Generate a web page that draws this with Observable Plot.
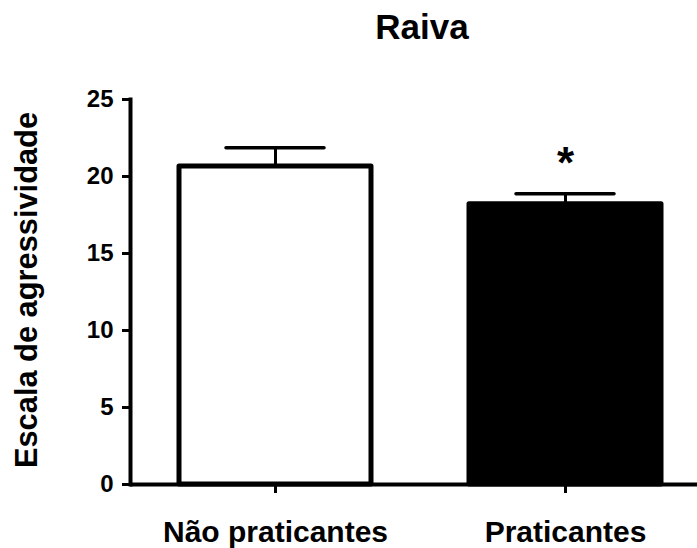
<!DOCTYPE html>
<html>
<head>
<meta charset="utf-8">
<script src="https://cdn.jsdelivr.net/npm/d3@7"></script>
<script src="https://cdn.jsdelivr.net/npm/@observablehq/plot@0.6"></script>
<style>
  html, body { margin: 0; padding: 0; background: white; }
</style>
</head>
<body>
<div id="chart"></div>
<script>
const grupos = ["Não praticantes", "Praticantes"];
const medias = [20.65, 18.2];
const epm = [1.22, 0.68];
const significancia = ["", "*"];
const yTicks = [0, 5, 10, 15, 20, 25];
const titulo = "Raiva";
const rotuloY = "Escala de agressividade";

const data = grupos.map((g, i) => ({grupo: g, media: medias[i], epm: epm[i], sig: significancia[i]}));

const font = "Liberation Sans, Arial, Helvetica, sans-serif";

const chart = Plot.plot({
  width: 697,
  height: 548,
  marginLeft: 130,
  marginRight: 0,
  marginTop: 99,
  marginBottom: 64,
  style: {fontFamily: font, fontWeight: "bold", background: "white", color: "black"},
  x: {type: "band", domain: grupos, range: [130, 710], paddingInner: 0.338, paddingOuter: 0.169},
  y: {domain: [0, 25]},
  color: {type: "ordinal", domain: grupos, range: ["white", "black"]},
  marks: [
    Plot.barY(data, {x: "grupo", y: "media", fill: "grupo", stroke: "black", strokeWidth: 5, strokeLinejoin: "round"}),
    Plot.ruleX(data, {x: "grupo", y1: "media", y2: d => d.media + d.epm, stroke: "black", strokeWidth: 3}),
    Plot.tickY(data, {x: "grupo", y: d => d.media + d.epm, insetLeft: 47, insetRight: 47, stroke: "black", strokeWidth: 3.5, strokeLinecap: "round"}),
    Plot.text(data, {x: "grupo", y: d => d.media + d.epm, text: "sig", lineAnchor: "bottom", dy: -16, fontSize: 44, fontWeight: "bold", fill: "black"}),
    Plot.frame({anchor: "left", stroke: "black", strokeWidth: 4}),
    Plot.ruleY([0], {stroke: "black", strokeWidth: 4}),
    Plot.axisY({ticks: yTicks, tickSize: 8, tickPadding: 9, fontSize: 24, fontWeight: "bold", strokeWidth: 3, label: null}),
    Plot.axisX({tickSize: 9, tickPadding: 27, fontSize: 30, fontWeight: "bold", strokeWidth: 3, label: null}),
    Plot.text([rotuloY], {frameAnchor: "left", textAnchor: "middle", rotate: -90, dx: -94, dy: -2, lineAnchor: "bottom", fontSize: 30.8, fontWeight: "bold", fill: "black"}),
    Plot.text([titulo], {frameAnchor: "top", dx: 8, dy: -61, lineAnchor: "bottom", fontSize: 35, fontWeight: "bold", fill: "black"})
  ]
});
document.getElementById("chart").appendChild(chart);
</script>
</body>
</html>
